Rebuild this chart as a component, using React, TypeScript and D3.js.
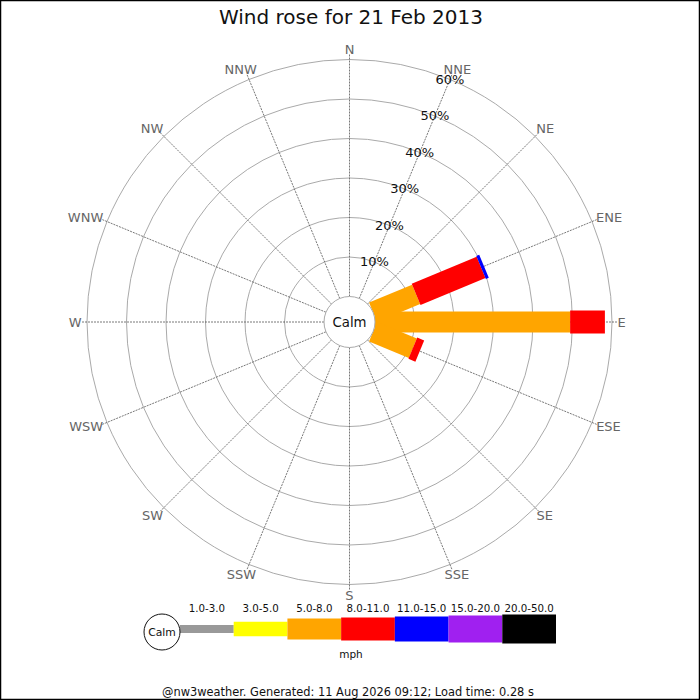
import React from "react";
import * as d3 from "d3";

const directions = ["N","NNE","NE","ENE","E","ESE","SE","SSE","S","SSW","SW","WSW","W","WNW","NW","NNW"];
const speedBands = ["1.0-3.0","3.0-5.0","5.0-8.0","8.0-11.0","11.0-15.0","15.0-20.0","20.0-50.0"];
const bandColors = ["#999999","#ffff00","#ffa500","#ff0000","#0000ff","#a020f0","#000000"];
const bandWidths = [8, 14.5, 21, 23, 25, 27, 29];
// percentage of time per direction per speed band
const dirENE = [0, 0, 11.8, 17.8, 0.8, 0, 0];
const dirE = [0, 0, 49.4, 8.8, 0, 0, 0];
const dirESE = [0, 0, 10.9, 1.9, 0, 0, 0];
const windData: { dir: string; values: number[] }[] = [
  { dir: "ENE", values: dirENE },
  { dir: "E", values: dirE },
  { dir: "ESE", values: dirESE },
];
const ringTicks = [10, 20, 30, 40, 50, 60];
const title = "Wind rose for 21 Feb 2013";
const footer = "@nw3weather. Generated: 11 Aug 2026 09:12; Load time: 0.28 s";

const W = 700, H = 700;
const cx = 349.5, cy = 322;
const calmR = 25.5, outerR = 262.5;
const FONT = "DejaVu Sans, sans-serif";
const charW: Record<string, number> = { N: 0.748, E: 0.632, S: 0.635, W: 0.989 };

export default function App() {
  const r = d3.scaleLinear().domain([0, 60]).range([calmR, outerR]);
  const ang = d3.scalePoint<string>().domain(directions).range([0, 360 - 22.5]);
  const pt = (deg: number, rad: number) => {
    const a = (deg * Math.PI) / 180;
    return [cx + rad * Math.sin(a), cy - rad * Math.cos(a)];
  };
  const legendX = d3.scaleBand().domain(speedBands).range([180, 556]).padding(0);
  const legendY = 629;
  const dirFont = 13;

  return (
    <svg width={W} height={H} style={{ position: "absolute", left: 0, top: 0, background: "#fff" }} fontFamily={FONT}>
      <rect x={0.5} y={0.5} width={W - 1} height={H - 1} fill="#fff" stroke="#000" strokeWidth={1.5} />
      <text x={351} y={24} textAnchor="middle" fontSize={20} fill="#111">{title}</text>

      {/* rings */}
      {ringTicks.map((t) => (
        <circle key={t} cx={cx} cy={cy} r={r(t)} fill="none" stroke="#aaa" strokeWidth={1} />
      ))}
      {/* spokes */}
      {directions.map((d) => {
        const [x1, y1] = pt(ang(d)!, calmR);
        const [x2, y2] = pt(ang(d)!, outerR + 5);
        return <line key={d} x1={x1} y1={y1} x2={x2} y2={y2} stroke="#555" strokeWidth={0.8} strokeDasharray="2,1" />;
      })}
      {/* direction labels */}
      {directions.map((d) => {
        const a = ang(d)!;
        const [px, py] = pt(a, 268);
        const tw = d.split("").reduce((s, c) => s + (charW[c] || 0.7), 0) * dirFont;
        const rad = (a * Math.PI) / 180;
        const x = px + (tw / 2) * Math.sin(rad);
        const y = py - 5 * Math.cos(rad);
        return (
          <text key={d} x={x} y={y} textAnchor="middle" dominantBaseline="central" fontSize={dirFont} fill="#666">{d}</text>
        );
      })}

      {/* bars */}
      {windData.map((wd) => {
        const a = ang(wd.dir)!;
        let cum = 0;
        return (
          <g key={wd.dir} transform={`translate(${cx},${cy}) rotate(${a - 90})`}>
            {wd.values.map((v, i) => {
              if (v <= 0) return null;
              const r0 = r(cum);
              cum += v;
              const r1 = r(cum);
              return (
                <rect key={i} x={r0} y={-bandWidths[i] / 2} width={r1 - r0} height={bandWidths[i]} fill={bandColors[i]} />
              );
            })}
          </g>
        );
      })}

      {/* calm circle */}
      <circle cx={cx} cy={cy} r={calmR} fill="#fff" stroke="#aaa" strokeWidth={1} />
      <text x={cx} y={cy} textAnchor="middle" dominantBaseline="central" fontSize={13.3} fill="#111">Calm</text>

      {/* percentage labels */}
      {ringTicks.map((t) => {
        const [x, y] = pt(22.5, r(t));
        return (
          <text key={t} x={x} y={y} textAnchor="middle" dominantBaseline="central" fontSize={13} fill="#111">{t}%</text>
        );
      })}

      {/* legend */}
      {speedBands.map((b, i) => (
        <g key={b}>
          <rect x={legendX(b)!} y={legendY - bandWidths[i] / 2} width={legendX.bandwidth()} height={bandWidths[i]} fill={bandColors[i]} />
          <text x={legendX(b)! + legendX.bandwidth() / 2} y={608} textAnchor="middle" dominantBaseline="central" fontSize={10.25} fill="#111">{b}</text>
        </g>
      ))}
      <circle cx={162} cy={632} r={18} fill="#fff" stroke="#111" strokeWidth={1} />
      <text x={162} y={632} textAnchor="middle" dominantBaseline="central" fontSize={10.8} fill="#111">Calm</text>
      <text x={351} y={654} textAnchor="middle" dominantBaseline="central" fontSize={10.5} fill="#111">mph</text>

      <text x={348} y={692} textAnchor="middle" dominantBaseline="central" fontSize={11.4} fill="#111">{footer}</text>
    </svg>
  );
}
